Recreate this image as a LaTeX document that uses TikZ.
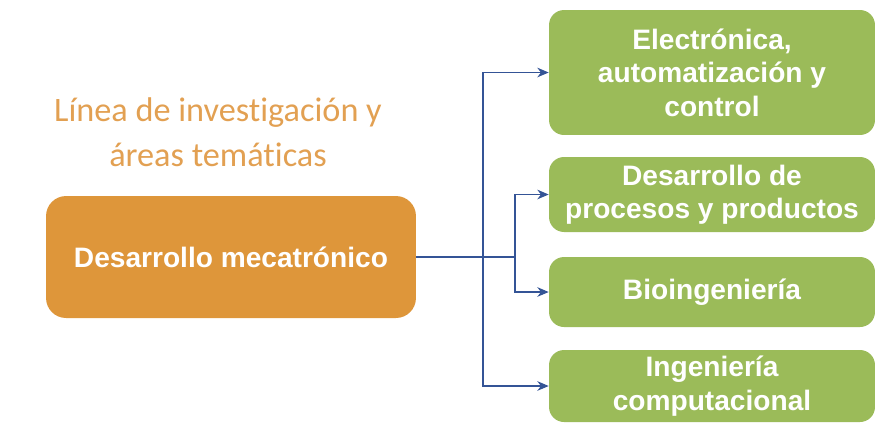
\documentclass[tikz,border=0pt]{standalone}
\usepackage{fontspec}
\setmainfont{Liberation Sans}
\newfontfamily\titlefont[Ligatures={NoCommon,NoDiscretionary}]{Carlito}
\usetikzlibrary{arrows.meta}

\definecolor{boxorange}{RGB}{222,150,58}
\definecolor{titleorange}{RGB}{226,160,82}
\definecolor{boxgreen}{RGB}{155,187,89}
\definecolor{linkblue}{RGB}{52,84,150}

\begin{document}
\begin{tikzpicture}[x=0.02cm, y=-0.02cm]
			
			% ---------- Helper styles ----------
			\tikzset{
				mainbox/.style={fill=boxorange, rounded corners=0.4cm, minimum width=7.4cm, minimum height=2.44cm,
					text=white, font=\fontsize{16}{19}\selectfont\bfseries, align=center},
				areabox/.style={fill=boxgreen, rounded corners=0.3cm, minimum width=6.52cm,
					text=white, font=\fontsize{16}{19}\selectfont\bfseries, align=center},
				link/.style={draw=linkblue, line width=0.6pt},
				linkarr/.style={link, -{Stealth[length=6.5pt, width=5.5pt]}}
			}
			
			% ---------- Frame ----------
			\useasboundingbox (0,0) rectangle (891,434);
			
			% ---------- Title ----------
			\node[align=center, text=titleorange, font=\titlefont\fontsize{19.5}{25.6}\selectfont] (title) at (218,132)
				{Línea de investigación y\\áreas temáticas};
			
			% ---------- Main box (left) ----------
			\node[mainbox] (dm) at (231,257) {Desarrollo mecatrónico};
			
			% ---------- Thematic areas (right) ----------
			\node[areabox, minimum height=2.5cm] (a1) at (712,72.5) {Electrónica,\\automatización y\\control};
			\node[areabox, minimum height=1.5cm] (a2) at (712,194.5) {Desarrollo de\\procesos y productos};
			\node[areabox, minimum height=1.4cm] (a3) at (712,292) {Bioingeniería};
			\node[areabox, minimum height=1.44cm] (a4) at (712,386) {Ingeniería\\computacional};
			
			% ---------- Connectors ----------
			\coordinate (j1) at (483,257);
			\coordinate (j2) at (515,257);
			\draw[link] (dm.east) -- (j2);
			\draw[linkarr] (j1) |- (a1.west);
			\draw[linkarr] (j1) |- (a4.west);
			\draw[linkarr] (j2) |- (a2.west);
			\draw[linkarr] (j2) |- (a3.west);
			
		\end{tikzpicture}
\end{document}
